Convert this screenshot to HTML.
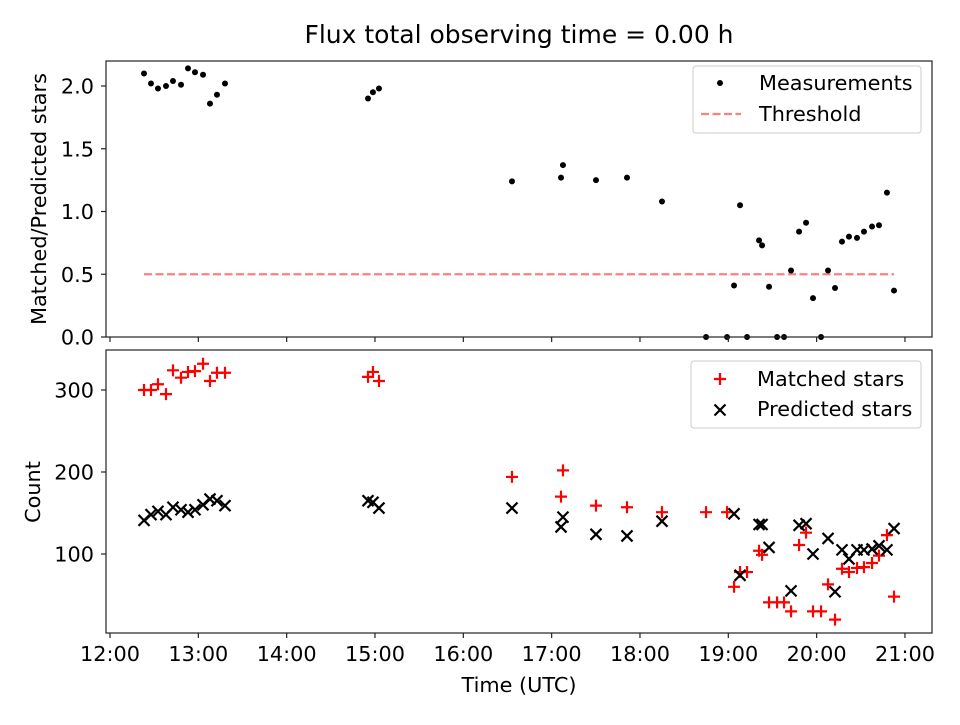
<!DOCTYPE html>
<html><head><meta charset="utf-8"><style>
body{margin:0;background:#fff}
svg{font-family:"DejaVu Sans","Liberation Sans",sans-serif}
</style></head><body>
<svg id="c" width="960" height="720" viewBox="0 0 960 720"></svg>
<script>
const times=[12.385,12.464,12.543,12.634,12.713,12.804,12.883,12.962,13.053,13.132,13.211,13.302,14.921,14.977,15.045,16.551,17.106,17.128,17.502,17.853,18.249,18.748,18.986,19.065,19.133,19.212,19.348,19.382,19.461,19.552,19.631,19.710,19.801,19.880,19.959,20.050,20.129,20.208,20.287,20.366,20.457,20.536,20.627,20.706,20.796,20.876];
const ratios=[2.10,2.02,1.98,2.00,2.04,2.01,2.14,2.11,2.09,1.86,1.93,2.02,1.90,1.95,1.98,1.24,1.27,1.37,1.25,1.27,1.08,0,0,0.41,1.05,0,0.77,0.73,0.40,0,0,0.53,0.84,0.91,0.31,0,0.53,0.39,0.76,0.80,0.79,0.84,0.88,0.89,1.15,0.37];
const matched=[300,300,307,295,324,315,322,323,332,311,321,321,316,322,311,194,170,202,159,157,151,151,151,60,78,78,104,99,41,41,41,30,111,126,30,30,63,20,82,78,83,84,89,98,123,48];
const predicted=[141,148,152,148,157,154,151,154,160,167,165,159,165,163,156,156,133,145,124,122,140,null,null,149,74,null,136,136,108,null,null,55,135,137,100,null,119,54,105,94,105,105,106,110,105,131];
const threshold=0.5;
const xTickLabels=["12:00","13:00","14:00","15:00","16:00","17:00","18:00","19:00","20:00","21:00"];
const topTicks=[0.0,0.5,1.0,1.5,2.0];
const botTicks=[100,200,300];

const NS="http://www.w3.org/2000/svg";
const svg=document.getElementById('c');
function el(t,a,p){const e=document.createElementNS(NS,t);for(const k in a)e.setAttribute(k,a[k]);(p||svg).appendChild(e);return e;}
const L=106,R=932;
const x=h=>110+(h-12)*88.33;
const T={top:61,bot:337}, B={top:350,bot:633};
const yT=v=>337-v*125.5;
const yB=v=>554-(v-100)*0.82;
const FS=20.8;

const defs=el('defs',{});
const c1=el('clipPath',{id:'ct'},defs);el('rect',{x:L,y:T.top-4,width:R-L,height:T.bot-T.top+8},c1);
const c2=el('clipPath',{id:'cb'},defs);el('rect',{x:L,y:B.top,width:R-L,height:B.bot-B.top},c2);

function txt(s,a,n,p){const t=el('text',a,p);t.textContent=s;return t;}
txt('Flux total observing time = 0.00 h',{x:519,y:43,'text-anchor':'middle','font-size':25},'chart-title');

const gt=el('g',{'clip-path':'url(#ct)'});


const th=el('line',{x1:x(times[0]),x2:x(times[times.length-1]),y1:yT(threshold),y2:yT(threshold),stroke:'#ff7f7f','stroke-width':2.2,'stroke-dasharray':'8,3.5'},gt);


times.forEach((t,i)=>{
  const c=el('circle',{cx:x(t),cy:yT(ratios[i]),r:3,fill:'#000'},gt);
  
  
});
const gb=el('g',{'clip-path':'url(#cb)'});


times.forEach((t,i)=>{
  const px=x(t),py=yB(matched[i]);
  const p=el('path',{d:`M${px-6},${py}H${px+6}M${px},${py-6}V${py+6}`,stroke:'#f00','stroke-width':2.2},gb);
  
  
});
times.forEach((t,i)=>{
  if(predicted[i]==null) return;
  const px=x(t),py=yB(predicted[i]);
  const p=el('path',{d:`M${px-5.5},${py-5.5}L${px+5.5},${py+5.5}M${px-5.5},${py+5.5}L${px+5.5},${py-5.5}`,stroke:'#000','stroke-width':2.2},gb);
  
  
});

[[T,'top-axes-frame'],[B,'bottom-axes-frame']].forEach(([P,n])=>{
  const r=el('rect',{x:L,y:P.top,width:R-L,height:P.bot-P.top,fill:'none',stroke:'#222','stroke-width':1.2});
  
  
});
xTickLabels.forEach((lab,i)=>{
  const px=x(12+i);
  el('line',{x1:px,x2:px,y1:T.bot,y2:T.bot+5,stroke:'#222','stroke-width':1.2});
  el('line',{x1:px,x2:px,y1:B.bot,y2:B.bot+5,stroke:'#222','stroke-width':1.2});
  txt(lab,{x:px,y:B.bot+28,'text-anchor':'middle','font-size':FS},'x-tick-label');
});
topTicks.forEach(v=>{
  const py=yT(v);
  el('line',{x1:L-5,x2:L,y1:py,y2:py,stroke:'#222','stroke-width':1.2});
  txt(v.toFixed(1),{x:L-12,y:py+7.5,'text-anchor':'end','font-size':FS},'top-y-tick-label');
});
botTicks.forEach(v=>{
  const py=yB(v);
  el('line',{x1:L-5,x2:L,y1:py,y2:py,stroke:'#222','stroke-width':1.2});
  txt(String(v),{x:L-12,y:py+7.5,'text-anchor':'end','font-size':FS},'bottom-y-tick-label');
});
txt('Time (UTC)',{x:519,y:692,'text-anchor':'middle','font-size':FS},'x-axis-title');
txt('Matched/Predicted stars',{x:0,y:0,transform:'translate(46,199) rotate(-90)','text-anchor':'middle','font-size':FS},'top-y-axis-title');
txt('Count',{x:0,y:0,transform:'translate(40,492) rotate(-90)','text-anchor':'middle','font-size':FS},'bottom-y-axis-title');

const lg1=el('g',{});


el('rect',{x:693,y:66,width:228,height:67,rx:3,fill:'#fff',stroke:'#ccc'},lg1);
el('circle',{cx:720,cy:83,r:3,fill:'#000'},lg1);
txt('Measurements',{x:759,y:90,'font-size':FS},'legend-measurements',lg1);
el('line',{x1:701,x2:741,y1:114,y2:114,stroke:'#ff7f7f','stroke-width':2.2,'stroke-dasharray':'8,3.5'},lg1);
txt('Threshold',{x:759,y:121,'font-size':FS},'legend-threshold',lg1);

const lg2=el('g',{});


el('rect',{x:691,y:361,width:230,height:67,rx:3,fill:'#fff',stroke:'#ccc'},lg2);
el('path',{d:'M714,379H726M720,373V385',stroke:'#f00','stroke-width':2.2},lg2);
txt('Matched stars',{x:757,y:386,'font-size':FS},'legend-matched',lg2);
el('path',{d:'M714.5,404.5L725.5,415.5M714.5,415.5L725.5,404.5',stroke:'#000','stroke-width':2.2},lg2);
txt('Predicted stars',{x:757,y:416,'font-size':FS},'legend-predicted',lg2);
</script>
</body></html>
